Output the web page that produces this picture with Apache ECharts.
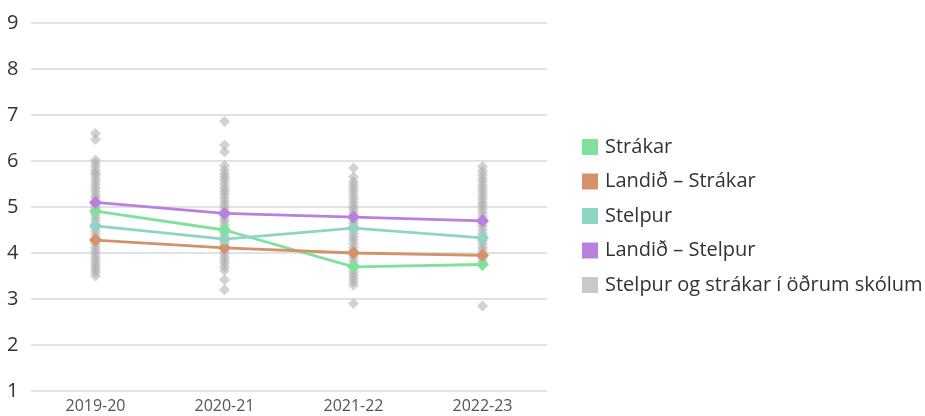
<!DOCTYPE html>
<html>
<head>
<meta charset="utf-8">
<script src="https://cdn.jsdelivr.net/npm/echarts@6/dist/echarts.min.js"></script>
<style>
  html, body { margin: 0; padding: 0; background: #fff; }
  #chart { width: 925px; height: 416px; }
</style>
</head>
<body>
<div id="chart"></div>
<script>
// categories (school years)
const years = ['2019-20', '2020-21', '2021-22', '2022-23'];

// line series
const strakar = [4.91, 4.5, 3.7, 3.75];
const landidStrakar = [4.28, 4.11, 4.0, 3.95];
const stelpur = [4.59, 4.3, 4.54, 4.33];
const landidStelpur = [5.1, 4.86, 4.78, 4.7];

// other schools, one list per year
const others1920 = [6.6, 6.47, 6.02, 5.95, 5.88, 5.8, 5.74, 5.7, 5.62, 5.55, 5.48, 5.4, 5.33, 5.25, 5.2, 5.12, 5.05, 4.98, 4.9, 4.84, 4.77, 4.7, 4.62, 4.55, 4.48, 4.4, 4.33, 4.26, 4.2, 4.12, 4.05, 3.98, 3.9, 3.84, 3.77, 3.7, 3.64, 3.58, 3.5];
const others2021 = [6.86, 6.35, 6.2, 5.9, 5.8, 5.72, 5.65, 5.58, 5.5, 5.42, 5.35, 5.28, 5.2, 5.12, 5.05, 4.98, 4.9, 4.82, 4.75, 4.68, 4.6, 4.52, 4.45, 4.38, 4.3, 4.22, 4.15, 4.08, 4.0, 3.92, 3.85, 3.78, 3.7, 3.62, 3.42, 3.2];
const others2122 = [5.85, 5.65, 5.55, 5.48, 5.4, 5.33, 5.25, 5.18, 5.1, 5.02, 4.95, 4.88, 4.8, 4.72, 4.65, 4.58, 4.5, 4.42, 4.35, 4.28, 4.2, 4.12, 4.05, 3.98, 3.9, 3.82, 3.75, 3.68, 3.6, 3.52, 3.45, 3.38, 3.3, 2.9];
const others2223 = [5.88, 5.78, 5.7, 5.62, 5.55, 5.47, 5.4, 5.33, 5.25, 5.18, 5.1, 5.03, 4.95, 4.88, 4.8, 4.72, 4.65, 4.58, 4.5, 4.42, 4.35, 4.27, 4.2, 4.12, 4.05, 3.97, 3.9, 3.83, 2.85];

const othersByYear = [others1920, others2021, others2122, others2223];
const othersData = [];
othersByYear.forEach((vals, i) => {
    vals.forEach(v => othersData.push([years[i], v]));
});

const font = 'Open Sans';
const chart = echarts.init(document.getElementById('chart'));

function lineSeries(name, data, color) {
    return {
        name: name,
        type: 'line',
        data: data,
        symbol: 'diamond',
        symbolSize: 13,
        z: 3,
        itemStyle: { color: color },
        lineStyle: { color: color, width: 2.8 }
    };
}

chart.setOption({
    animation: false,
    textStyle: { fontFamily: font },
    grid: { left: 31, right: 378, top: 23, bottom: 25 },
    legend: {
        orient: 'vertical',
        left: 582,
        top: 137,
        padding: 0,
        itemWidth: 16,
        itemHeight: 16,
        itemGap: 14.5,
        icon: 'rect',
        textStyle: { fontSize: 20, color: '#333', fontFamily: font, padding: [0, 0, 0, 2] },
        data: ['Strákar', 'Landið – Strákar', 'Stelpur', 'Landið – Stelpur',
            { name: 'Stelpur og strákar í öðrum skólum', itemStyle: { color: '#bbbbbb' } }]
    },
    xAxis: {
        type: 'category',
        data: years,
        boundaryGap: true,
        axisLine: { show: false },
        axisTick: { show: false },
        axisLabel: { fontSize: 16, color: '#555', margin: 7, fontFamily: font }
    },
    yAxis: {
        type: 'value',
        min: 1,
        max: 9,
        interval: 1,
        axisLine: { show: false },
        axisTick: { show: false },
        axisLabel: { fontSize: 20, color: '#333', margin: 24, align: 'left', fontFamily: font },
        splitLine: { lineStyle: { color: '#d9d9d9', width: 1.5 } }
    },
    series: [
        lineSeries('Strákar', strakar, '#7ee29a'),
        lineSeries('Landið – Strákar', landidStrakar, '#d4926a'),
        lineSeries('Stelpur', stelpur, '#90d4c4'),
        lineSeries('Landið – Stelpur', landidStelpur, '#b980de'),
        {
            name: 'Stelpur og strákar í öðrum skólum',
            type: 'scatter',
            data: othersData,
            symbol: 'diamond',
            symbolSize: 11,
            z: 1,
            itemStyle: { color: 'rgba(175,175,175,0.7)' }
        }
    ]
});
</script>
</body>
</html>
